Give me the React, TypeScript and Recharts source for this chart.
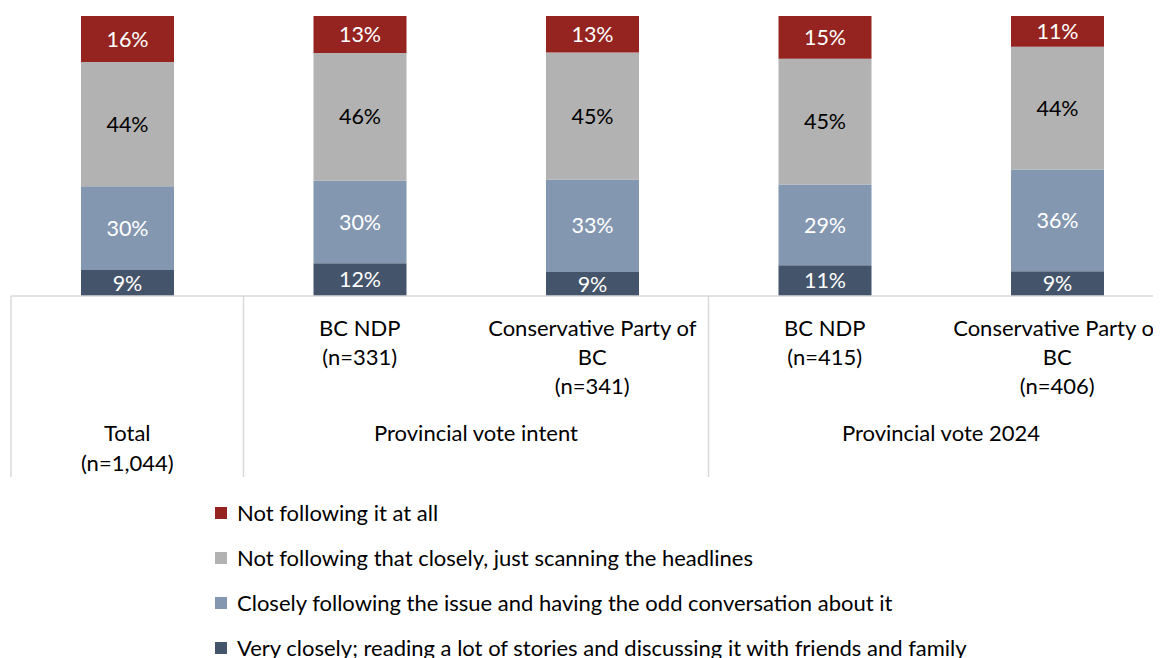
import React from "react";
import { BarChart, Bar, XAxis, YAxis, LabelList, Legend } from "recharts";

// ---- data ----
const categoryKeys = ["total", "intentNdp", "intentCon", "vote24Ndp", "vote24Con"];
const categoryLines: string[][] = [
  [],
  ["BC NDP", "(n=331)"],
  ["Conservative Party of", "BC", "(n=341)"],
  ["BC NDP", "(n=415)"],
  ["Conservative Party of", "BC", "(n=406)"],
];
const groups = [
  { start: 0, end: 0, lines: ["Total", "(n=1,044)"] },
  { start: 1, end: 2, lines: ["Provincial vote intent"] },
  { start: 3, end: 4, lines: ["Provincial vote 2024"] },
];
const veryClosely = [9.3, 11.7, 8.6, 11.0, 8.8];
const closely = [29.9, 29.5, 33.0, 28.8, 36.4];
const notClosely = [44.4, 45.6, 45.4, 44.9, 43.8];
const notAtAll = [16.4, 13.2, 13.0, 15.3, 11.0];

const seriesNames = {
  notAtAll: "Not following it at all",
  notClosely: "Not following that closely, just scanning the headlines",
  closely: "Closely following the issue and having the odd conversation about it",
  veryClosely: "Very closely; reading a lot of stories and discussing it with friends and family",
};
const colors = {
  notAtAll: "#952421",
  notClosely: "#B2B2B2",
  closely: "#8497B0",
  veryClosely: "#44546A",
};

const data = categoryKeys.map((k, i) => ({
  key: k,
  veryClosely: veryClosely[i],
  closely: closely[i],
  notClosely: notClosely[i],
  notAtAll: notAtAll[i],
}));

// ---- layout ----
const FONT = "Lato, 'Open Sans', sans-serif";
const TEXT_SIZE = 22;
const LABEL_SIZE = 21.5;
const CHART_W = 1169;
const CHART_H = 650;
const MARGIN = { top: 8, right: 3.5, bottom: 181, left: 3 };
const PLOT_W = CHART_W - MARGIN.left - MARGIN.right;
const BAND = PLOT_W / categoryKeys.length;
const AXIS_H = 181;
const GRID = "#D9D9D9";

const fmt = (v: any) => `${Math.round(Number(v))}%`;

const CategoryTick = (props: any) => {
  const { x, y, index } = props;
  const lines = categoryLines[index] || [];
  const group = groups.find((g) => g.start === index);
  return (
    <g>
      {lines.map((t, i) => (
        <text
          key={i}
          x={x}
          y={y + 31 + i * 29}
          textAnchor="middle"
          dominantBaseline="central"
          fontFamily={FONT}
          fontSize={TEXT_SIZE}
          fill="#000"
        >
          {t}
        </text>
      ))}
      {group && (
        <g>
          <line x1={x - BAND / 2} x2={x - BAND / 2} y1={y} y2={y + AXIS_H} stroke={GRID} strokeWidth={1.5} />
          {group.lines.map((t, i) => (
            <text
              key={i}
              x={x + ((group.end - group.start) * BAND) / 2}
              y={y + 136 + i * 30}
              textAnchor="middle"
              dominantBaseline="central"
              fontFamily={FONT}
              fontSize={TEXT_SIZE}
              fill="#000"
            >
              {t}
            </text>
          ))}
        </g>
      )}
    </g>
  );
};

const legendOrder: (keyof typeof seriesNames)[] = ["notAtAll", "notClosely", "closely", "veryClosely"];

const LegendContent = () => (
  <div style={{ fontFamily: FONT, fontSize: TEXT_SIZE, color: "#000" }}>
    {legendOrder.map((k) => (
      <div key={k} style={{ height: 45, display: "flex", alignItems: "center", whiteSpace: "nowrap" }}>
        <span style={{ display: "inline-block", width: 12, height: 12, background: colors[k], marginRight: 10 }} />
        <span>{seriesNames[k]}</span>
      </div>
    ))}
  </div>
);

export default function App() {
  return (
    <div style={{ width: 1153, height: 650, overflow: "hidden", position: "relative" }}>
      <BarChart width={CHART_W} height={CHART_H} data={data} margin={MARGIN} barSize={93}>
        <XAxis
          dataKey="key"
          height={AXIS_H}
          axisLine={{ stroke: GRID, strokeWidth: 1.5 }}
          tickLine={false}
          tickSize={0}
          tickMargin={0}
          tick={<CategoryTick />}
          interval={0}
        />
        <YAxis hide domain={[0, 100]} type="number" allowDataOverflow />
        <Legend
          layout="horizontal"
          verticalAlign="middle"
          align="center"
          content={<LegendContent />}
          wrapperStyle={{ top: 482, left: 207, width: 950, height: 180 }}
        />
        <Bar dataKey="veryClosely" stackId="a" fill={colors.veryClosely} isAnimationActive={false}>
          <LabelList dataKey="veryClosely" position="center" formatter={fmt} fill="#fff" fontFamily={FONT} fontSize={LABEL_SIZE} />
        </Bar>
        <Bar dataKey="closely" stackId="a" fill={colors.closely} isAnimationActive={false}>
          <LabelList dataKey="closely" position="center" formatter={fmt} fill="#fff" fontFamily={FONT} fontSize={LABEL_SIZE} />
        </Bar>
        <Bar dataKey="notClosely" stackId="a" fill={colors.notClosely} isAnimationActive={false}>
          <LabelList dataKey="notClosely" position="center" formatter={fmt} fill="#000" fontFamily={FONT} fontSize={LABEL_SIZE} />
        </Bar>
        <Bar dataKey="notAtAll" stackId="a" fill={colors.notAtAll} isAnimationActive={false}>
          <LabelList dataKey="notAtAll" position="center" formatter={fmt} fill="#fff" fontFamily={FONT} fontSize={LABEL_SIZE} />
        </Bar>
      </BarChart>
    </div>
  );
}
